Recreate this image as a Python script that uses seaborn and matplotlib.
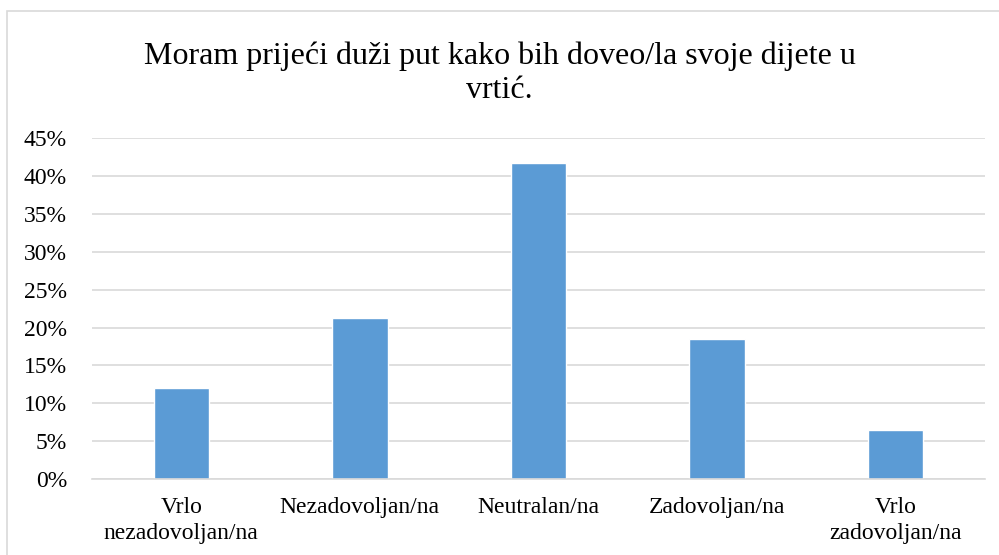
import matplotlib
matplotlib.use("Agg")
import matplotlib.pyplot as plt
import seaborn as sns
import pandas as pd
from matplotlib.patches import Rectangle
from matplotlib.ticker import PercentFormatter, MultipleLocator

categories = ["Vrlo\nnezadovoljan/na", "Nezadovoljan/na", "Neutralan/na", "Zadovoljan/na", "Vrlo\nzadovoljan/na"]
values = [0.120, 0.212, 0.417, 0.185, 0.065]
title = "Moram prijeći duži put kako bih doveo/la svoje dijete u\nvrtić."

sns.set_theme(style="white")
plt.rcParams['font.family'] = ['Liberation Serif', 'DejaVu Serif']

df = pd.DataFrame({"cat": categories, "val": values})

fig = plt.figure(figsize=(9.99, 5.55), dpi=100)
ax = fig.add_axes([0.092, 0.137, 0.894, 0.614])
sns.barplot(data=df, x="cat", y="val", color="#5B9BD5", width=0.31, ax=ax, saturation=1)

ax.set_ylim(0, 0.45)
ax.set_xlim(-0.5, 4.5)
ax.yaxis.set_major_locator(MultipleLocator(0.05))
ax.yaxis.set_major_formatter(PercentFormatter(1.0, decimals=0))
ax.grid(axis="y", color="#D9D9D9", linewidth=1.2)
ax.set_axisbelow(True)
for s in ["top", "right", "left"]:
    ax.spines[s].set_visible(False)
ax.spines["bottom"].set_color("#D9D9D9")
ax.spines["bottom"].set_linewidth(1.2)
ax.set_xlabel("")
ax.set_ylabel("")
ax.tick_params(axis="both", length=0, labelsize=17, colors="#000000")
ax.tick_params(axis="x", pad=13)
ax.tick_params(axis="y", pad=18)
for lab in ax.get_xticklabels():
    lab.set_linespacing(1.3)

fig.text(0.5, 0.81, title, ha="center", va="bottom", fontsize=23, linespacing=1.25,
         color="#000000")

fig.patches.append(Rectangle((0.007, -0.01), 1.2, 0.99, transform=fig.transFigure,
                             fill=False, edgecolor="#D9D9D9", linewidth=1.2))

fig.savefig("out.png", dpi=100)
